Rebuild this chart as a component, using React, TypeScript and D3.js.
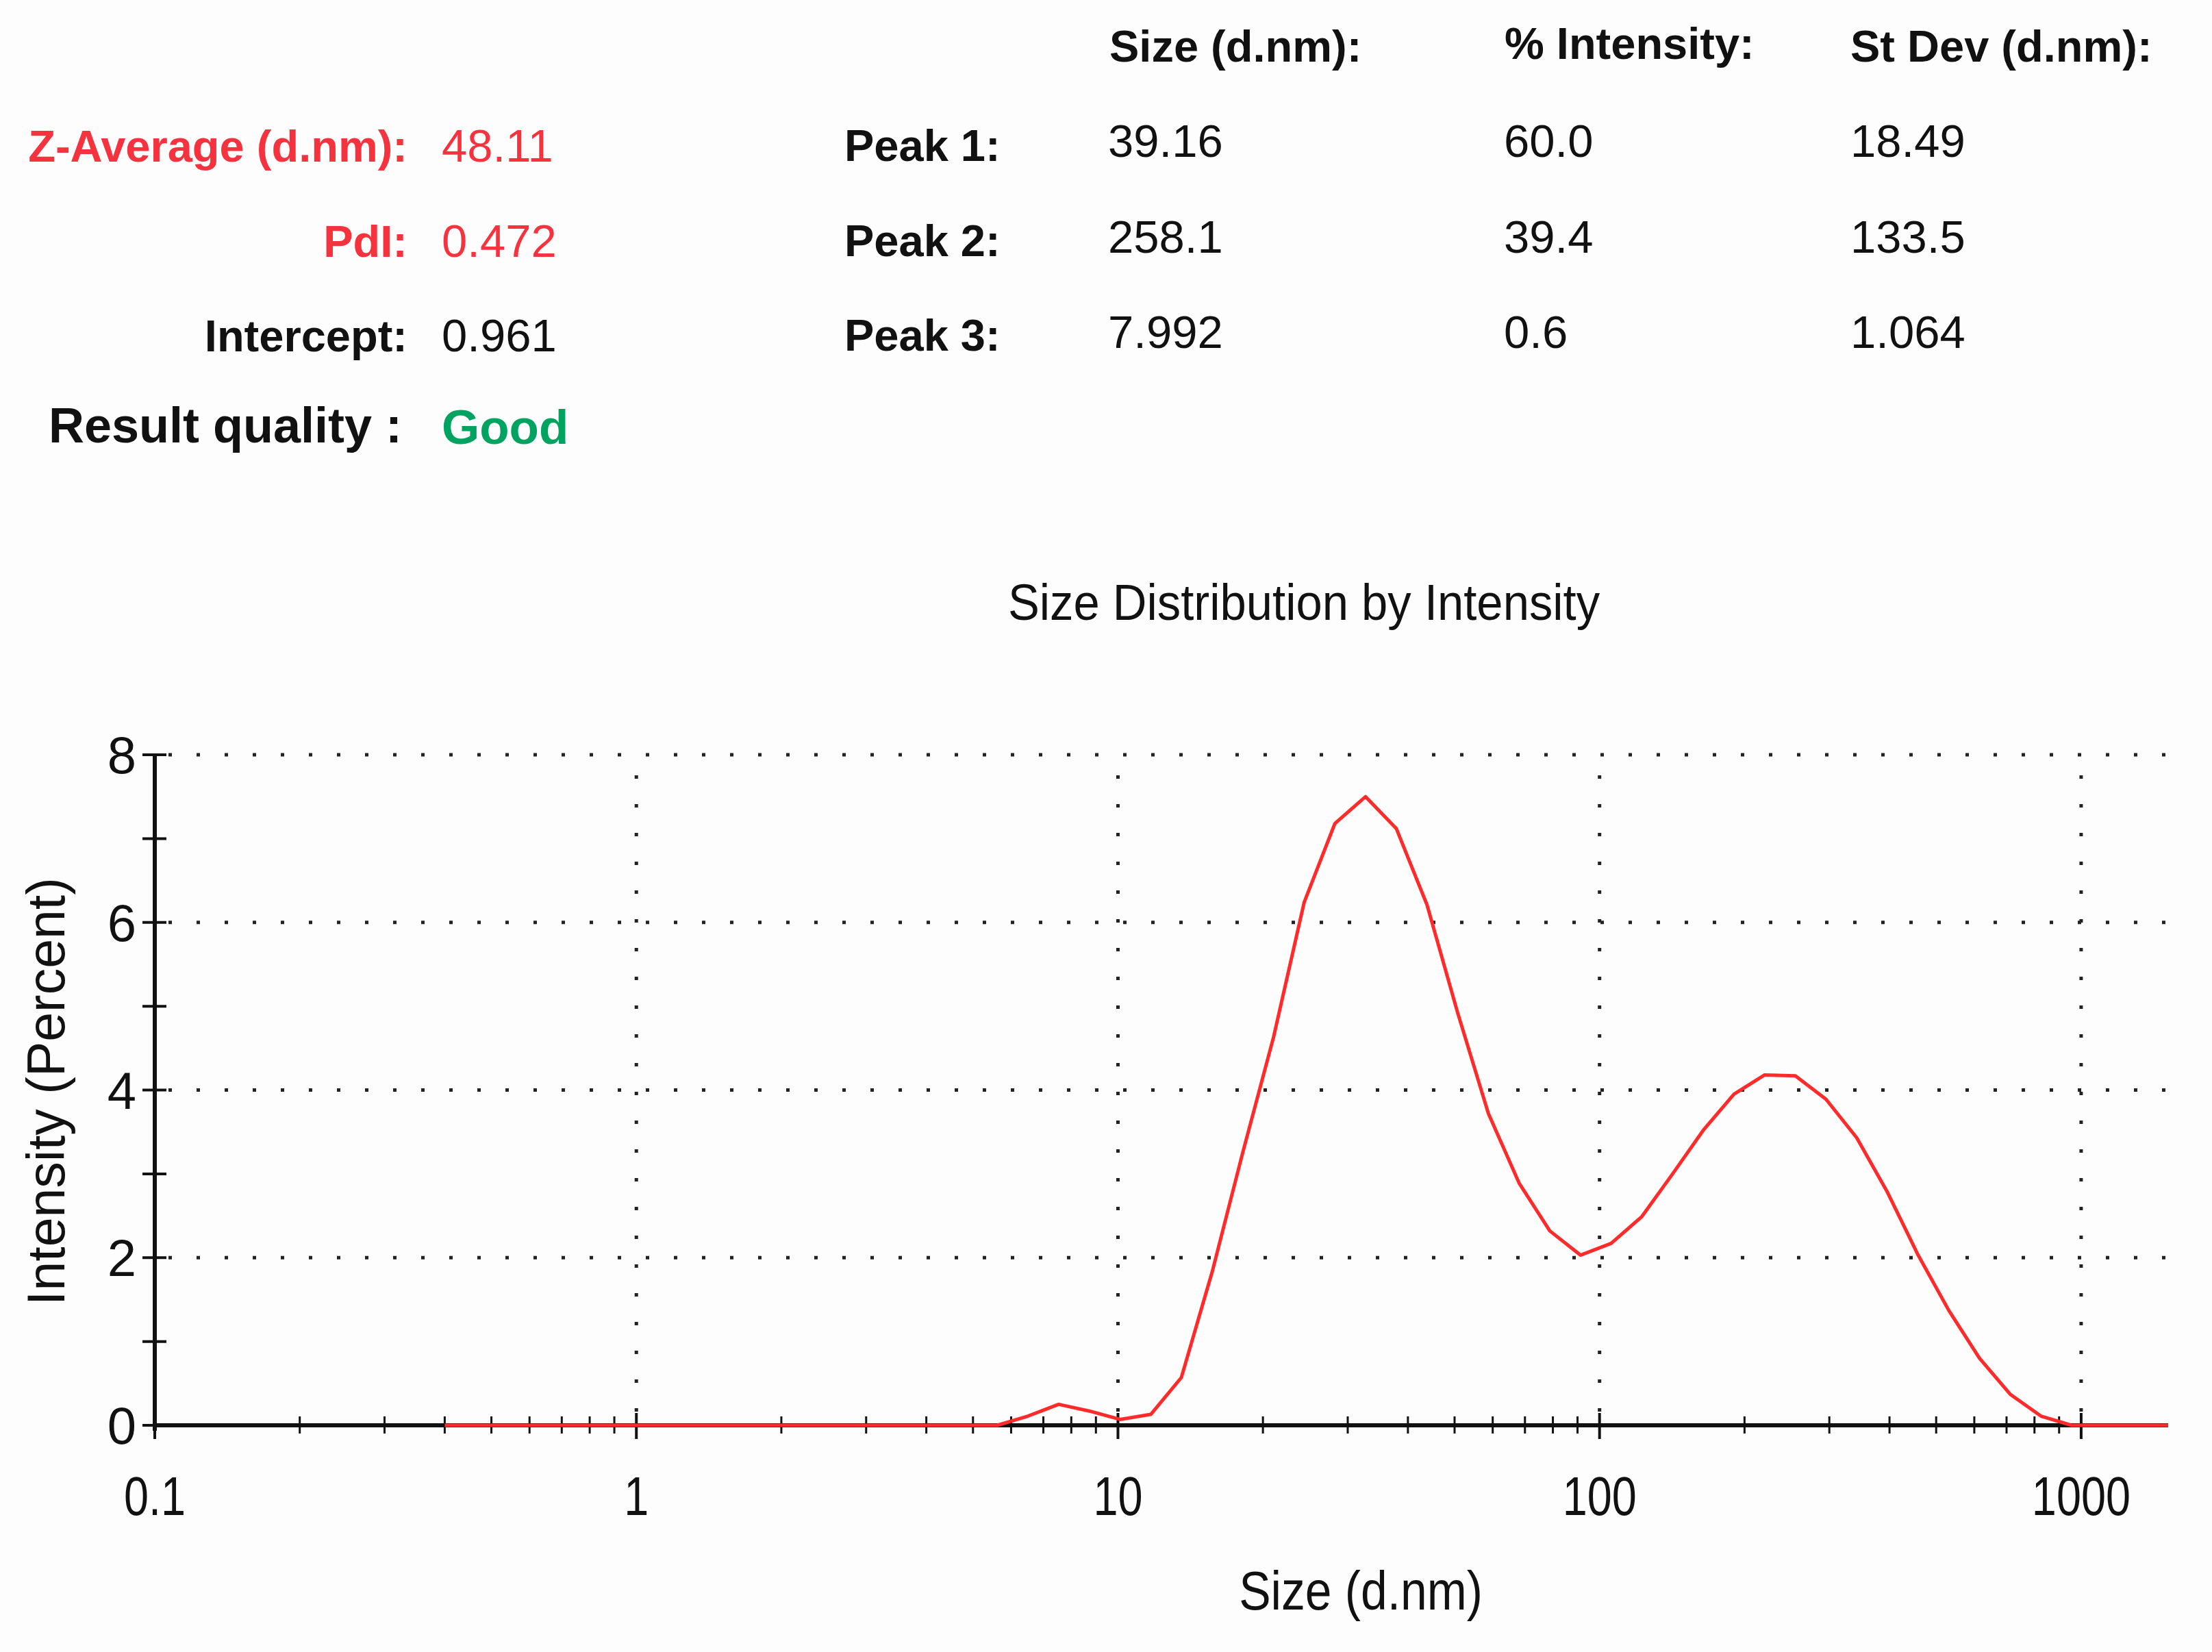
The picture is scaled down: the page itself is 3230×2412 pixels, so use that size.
import React, { useEffect } from "react";
import * as d3 from "d3";

// ---- Data ----
const sizes = [
  0.4, 0.4632, 0.5365, 0.6213, 0.7195, 0.8332, 0.9649, 1.117, 1.294, 1.499,
  1.736, 2.01, 2.328, 2.696, 3.122, 3.615, 4.187, 4.849, 5.615, 6.503,
  7.531, 8.721, 10.1, 11.7, 13.54, 15.69, 18.17, 21.04, 24.36, 28.21,
  32.67, 37.84, 43.82, 50.75, 58.77, 68.06, 78.82, 91.28, 105.7, 122.4,
  141.8, 164.2, 190.1, 220.2, 255.0, 295.3, 342.0, 396.1, 458.7, 531.2,
  615.1, 712.4, 825.0, 955.4, 1106, 1281, 1484, 1718,
];
const intensity = [
  0, 0, 0, 0, 0, 0, 0, 0, 0, 0,
  0, 0, 0, 0, 0, 0, 0, 0, 0, 0.11,
  0.25, 0.17, 0.07, 0.13, 0.57, 1.83, 3.26, 4.63, 6.24, 7.18,
  7.5, 7.12, 6.21, 4.92, 3.72, 2.89, 2.32, 2.03, 2.17, 2.49,
  3.0, 3.52, 3.95, 4.18, 4.17, 3.89, 3.43, 2.78, 2.03, 1.37,
  0.8, 0.37, 0.11, 0, 0, 0, 0, 0,
];

const xTickValues = [0.1, 1, 10, 100, 1000];
const xTickLabels = ["0.1", "1", "10", "100", "1000"];
const yTickValues = [0, 2, 4, 6, 8];
const yMinorValues = [1, 3, 5, 7];

const summaryLabels = ["Z-Average (d.nm):", "PdI:", "Intercept:"];
const summaryValues = ["48.11", "0.472", "0.961"];
const summaryColors = ["#f5333f", "#f5333f", "#111111"];
const qualityLabel = "Result quality :";
const qualityValue = "Good";

const peakNames = ["Peak 1:", "Peak 2:", "Peak 3:"];
const peakHeaders = ["Size (d.nm):", "% Intensity:", "St Dev (d.nm):"];
const peakSize = ["39.16", "258.1", "7.992"];
const peakPct = ["60.0", "39.4", "0.6"];
const peakSd = ["18.49", "133.5", "1.064"];

const FONT = "'Liberation Sans', Arial, Helvetica, sans-serif";

function T({ x, y, sx = 1, size, anchor = "start", weight = "normal", fill = "#111", rotate = 0, children }: any) {
  const tr = `translate(${x},${y})${rotate ? ` rotate(${rotate})` : ""} scale(${sx},1)`;
  return (
    <text transform={tr} fontFamily={FONT} fontSize={size} fontWeight={weight} textAnchor={anchor} fill={fill}>
      {children}
    </text>
  );
}

export default function App() {
  useEffect(() => {
    document.body.style.margin = "0";
  }, []);

  const W = 3230;
  const H = 2412;
  const x = d3.scaleLog().domain([0.1, 1516]).range([226, 3166]);
  const y = d3.scaleLinear().domain([0, 8]).range([2081, 1102]);

  const minorX: number[] = [];
  for (let e = -1; e <= 3; e++) {
    for (let m = 2; m <= 9; m++) {
      const v = m * Math.pow(10, e);
      if (v < 1516) minorX.push(v);
    }
  }

  const line = d3
    .line<number>()
    .x((_, i) => x(sizes[i]))
    .y((d) => y(d))
    .curve(d3.curveLinear);

  const [x0, x1] = x.range();
  const [yb, yt] = y.range();

  const rowY = [236, 375, 513];
  const peakValY = [229, 369, 508];

  return (
    <svg width={W} height={H} style={{ position: "absolute", left: 0, top: 0, background: "#fdfdfd" }}>
      <rect x={0} y={0} width={W} height={H} fill="#fdfdfd" />

      {/* Summary block */}
      {summaryLabels.map((s, i) => (
        <g key={s}>
          <T x={595} y={rowY[i]} size={65} anchor="end" weight="bold" fill={summaryColors[i]}>{s}</T>
          <T x={645} y={rowY[i]} size={67} fill={summaryColors[i]}>{summaryValues[i]}</T>
        </g>
      ))}
      <T x={587} y={646} size={72} anchor="end" weight="bold" fill="#111">{qualityLabel}</T>
      <T x={645} y={648} size={71} weight="bold" fill="#00a35f">{qualityValue}</T>

      {/* Peak table */}
      {peakHeaders.map((h, i) => (
        <T key={h} x={[1620, 2197, 2702][i]} y={[90, 86, 90][i]} size={65} weight="bold">{h}</T>
      ))}
      {peakNames.map((p, i) => (
        <g key={p}>
          <T x={1233} y={rowY[i] - 1} size={65} weight="bold">{p}</T>
          <T x={1618} y={peakValY[i]} size={67}>{peakSize[i]}</T>
          <T x={2196} y={peakValY[i]} size={67}>{peakPct[i]}</T>
          <T x={2702} y={peakValY[i]} size={67}>{peakSd[i]}</T>
        </g>
      ))}

      {/* Title */}
      <T x={1904} y={905} size={74} sx={0.93} anchor="middle">Size Distribution by Intensity</T>

      {/* Grid */}
      {yTickValues.filter((v) => v > 0).map((v) => (
        <line key={"gy" + v} x1={x0 + 20} x2={x1} y1={y(v)} y2={y(v)} stroke="#222" strokeWidth={5} strokeDasharray="5 36" />
      ))}
      {xTickValues.filter((v) => v > 0.1).map((v) => (
        <line key={"gx" + v} x1={x(v)} x2={x(v)} y1={yb - 20} y2={yt} stroke="#222" strokeWidth={5} strokeDasharray="5 37" />
      ))}

      {/* Y axis */}
      <line x1={x0} x2={x0} y1={yt} y2={yb + 8} stroke="#111" strokeWidth={6} />
      {[...yTickValues, ...yMinorValues].map((v) => (
        <line key={"yt" + v} x1={x0 - 18} x2={x0 + 17} y1={y(v)} y2={y(v)} stroke="#111" strokeWidth={4} />
      ))}
      {yTickValues.map((v) => (
        <T key={"yl" + v} x={199} y={y(v) + 27} size={76} anchor="end">{String(v)}</T>
      ))}
      <T x={94} y={(yt + yb) / 2 + 2} size={77} anchor="middle" rotate={-90}>Intensity (Percent)</T>

      {/* X axis */}
      <line x1={x0} x2={x1} y1={yb} y2={yb} stroke="#111" strokeWidth={6} />
      {minorX.map((v) => (
        <line key={"xm" + v} x1={x(v)} x2={x(v)} y1={yb - 13} y2={yb + 12} stroke="#111" strokeWidth={3} />
      ))}
      {xTickValues.map((v) => (
        <line key={"xM" + v} x1={x(v)} x2={x(v)} y1={yb - 18} y2={yb + 20} stroke="#111" strokeWidth={4} />
      ))}
      {xTickValues.map((v, i) => (
        <T key={"xl" + v} x={x(v)} y={2212} size={80} sx={0.81} anchor="middle">{xTickLabels[i]}</T>
      ))}
      <T x={1987} y={2350} size={80} sx={0.87} anchor="middle">Size (d.nm)</T>

      {/* Curve */}
      <defs>
        <clipPath id="plotclip">
          <rect x={x0} y={yt - 20} width={x1 - x0} height={yb - yt + 40} />
        </clipPath>
      </defs>
      <path d={line(intensity) || ""} fill="none" stroke="#ff2a2a" strokeWidth={5} strokeLinejoin="round" clipPath="url(#plotclip)" />
    </svg>
  );
}
